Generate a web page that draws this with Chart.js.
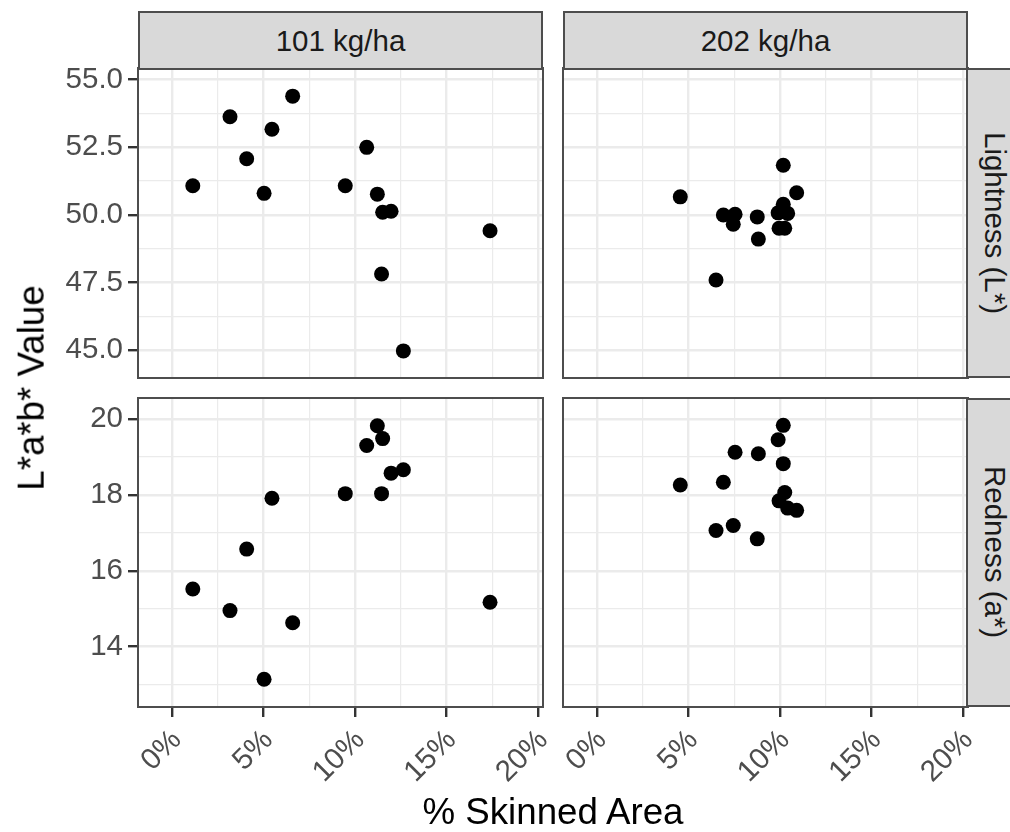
<!DOCTYPE html>
<html>
<head>
<meta charset="utf-8">
<script src="https://cdn.jsdelivr.net/npm/chart.js@4.4.1/dist/chart.umd.min.js"></script>
<style>
  html, body { margin: 0; padding: 0; background: #fff; }
  #wrap { position: relative; width: 1010px; height: 832px; overflow: hidden; font-family: 'Liberation Sans', Arial, Helvetica, sans-serif; }
  #wrap canvas { position: absolute; left: 0; top: 0; }
  .strip { position: absolute; box-sizing: border-box; background: #d9d9d9; border: 2px solid #4d4d4d;
           display: flex; align-items: center; justify-content: center; font-size: 29.5px; color: #1a1a1a; line-height: 1; }
  .strip.side span { writing-mode: vertical-rl; }
  .title { position: absolute; font-size: 36.7px; line-height: 1; color: #000; white-space: nowrap; }
</style>
</head>
<body>
<div id="wrap">
  <canvas id="p11" width="1010" height="832"></canvas>
  <canvas id="p12" width="1010" height="832"></canvas>
  <canvas id="p21" width="1010" height="832"></canvas>
  <canvas id="p22" width="1010" height="832"></canvas>

  <div class="strip" style="left:138px; top:11px; width:405px; height:59px;"><span>101 kg/ha</span></div>
  <div class="strip" style="left:563px; top:11px; width:405px; height:59px;"><span>202 kg/ha</span></div>
  <div class="strip side" style="left:966px; top:68px; width:59px; height:310px;"><span>Lightness (L*)</span></div>
  <div class="strip side" style="left:966px; top:398px; width:59px; height:309px;"><span>Redness (a*)</span></div>

  <div class="title" style="left:553px; top:794px; transform: translateX(-50%);">% Skinned Area</div>
  <div class="title" style="left:32px; top:388px; transform: translate(-50%, -50%) rotate(-90deg);">L*a*b* Value</div>
</div>

<script>
// axis breaks
const xMajor = [0, 5, 10, 15, 20];
const xMinor = [2.5, 7.5, 12.5, 17.5];
const lightMajor = [45, 47.5, 50, 52.5, 55];
const lightMinor = [46.25, 48.75, 51.25, 53.75];
const redMajor = [14, 16, 18, 20];
const redMinor = [13, 15, 17, 19];

// axis limits
const xRange = [-1.84, 20.26];
const lightRange = [43.97, 55.42];
const redRange = [12.41, 20.55];

// 101 kg/ha samples
const skinned101 = [1.15, 3.18, 4.09, 5.04, 5.47, 6.60, 9.47, 10.64, 11.22, 11.45, 11.51, 11.97, 12.64, 17.37];
const light101   = [51.07, 53.62, 52.07, 50.79, 53.16, 54.38, 51.07, 52.49, 50.76, 47.81, 50.09, 50.13, 44.97, 49.41];
const red101     = [15.52, 14.95, 16.57, 13.14, 17.91, 14.63, 18.03, 19.30, 19.82, 18.03, 19.48, 18.57, 18.66, 15.17];

// 202 kg/ha samples
const skinned202 = [4.56, 6.51, 6.91, 7.45, 7.55, 8.76, 8.82, 9.90, 9.95, 10.18, 10.18, 10.26, 10.42, 10.91];
const light202   = [50.66, 47.59, 49.99, 49.65, 50.02, 49.92, 49.10, 50.07, 49.50, 51.83, 50.39, 49.50, 50.05, 50.81];
const red202     = [18.26, 17.06, 18.33, 17.19, 19.12, 16.84, 19.08, 19.45, 17.84, 19.83, 18.82, 18.06, 17.65, 17.59];

const W = 1010, H = 832;
const FONT = "'Liberation Sans', Arial, Helvetica, sans-serif";

const panelBorder = {
  id: 'panelBorder',
  afterDraw(chart) {
    const a = chart.chartArea, ctx = chart.ctx;
    ctx.save();
    ctx.strokeStyle = '#4d4d4d';
    ctx.lineWidth = 2;
    ctx.strokeRect(a.left, a.top, a.right - a.left, a.bottom - a.top);
    ctx.restore();
  }
};

function breaks(major, minor) {
  return s => { s.ticks = major.concat(minor).sort((a, b) => a - b).map(v => ({value: v})); };
}

function makePanel(id, rect, xs, ys, yRange, yMajor, yMinor, yFmt, showX, showY) {
  const data = xs.map((x, i) => ({x: x, y: ys[i]}));
  return new Chart(document.getElementById(id), {
    type: 'scatter',
    data: {
      datasets: [{
        data: data,
        pointRadius: 7.5,
        pointHoverRadius: 7.5,
        pointBackgroundColor: '#000',
        pointBorderWidth: 0
      }]
    },
    options: {
      responsive: false,
      animation: false,
      events: [],
      layout: {
        padding: {
          left: showY ? 0 : rect.left,
          right: W - rect.right,
          top: rect.top,
          bottom: showX ? 0 : H - rect.bottom
        }
      },
      plugins: { legend: { display: false }, tooltip: { enabled: false } },
      scales: {
        x: {
          type: 'linear',
          min: xRange[0],
          max: xRange[1],
          bounds: 'data',
          afterBuildTicks: breaks(xMajor, xMinor),
          afterFit: s => { s.height = showX ? H - rect.bottom : 0; },
          border: { display: false },
          grid: {
            color: '#ebebeb',
            lineWidth: c => xMajor.includes(c.tick.value) ? 2.4 : 1.2,
            drawTicks: showX,
            tickLength: 10,
            tickWidth: 2.4,
            tickColor: c => xMajor.includes(c.tick.value) ? '#333333' : 'rgba(0,0,0,0)'
          },
          ticks: {
            display: showX,
            autoSkip: false,
            minRotation: 45,
            maxRotation: 45,
            padding: 6,
            labelOffset: 5,
            color: '#4d4d4d',
            font: { family: FONT, size: 29.5 },
            callback: v => xMajor.includes(v) ? v + '%' : ''
          }
        },
        y: {
          type: 'linear',
          min: yRange[0],
          max: yRange[1],
          bounds: 'data',
          afterBuildTicks: breaks(yMajor, yMinor),
          afterFit: s => { s.width = showY ? rect.left : 0; },
          border: { display: false },
          grid: {
            color: '#ebebeb',
            lineWidth: c => yMajor.includes(c.tick.value) ? 2.4 : 1.2,
            drawTicks: showY,
            tickLength: 10,
            tickWidth: 2.4,
            tickColor: c => yMajor.includes(c.tick.value) ? '#333333' : 'rgba(0,0,0,0)'
          },
          ticks: {
            display: showY,
            autoSkip: false,
            padding: 5,
            color: '#4d4d4d',
            font: { family: FONT, size: 29.5 },
            callback: v => yMajor.includes(v) ? yFmt(v) : ''
          }
        }
      }
    },
    plugins: [panelBorder]
  });
}

const oneDec = v => v.toFixed(1);
const noDec = v => String(v);

makePanel('p11', {left: 138, top: 68, right: 543, bottom: 378}, skinned101, light101, lightRange, lightMajor, lightMinor, oneDec, false, true);
makePanel('p12', {left: 563, top: 68, right: 968, bottom: 378}, skinned202, light202, lightRange, lightMajor, lightMinor, oneDec, false, false);
makePanel('p21', {left: 138, top: 398, right: 543, bottom: 707}, skinned101, red101, redRange, redMajor, redMinor, noDec, true, true);
makePanel('p22', {left: 563, top: 398, right: 968, bottom: 707}, skinned202, red202, redRange, redMajor, redMinor, noDec, true, false);
</script>
</body>
</html>
